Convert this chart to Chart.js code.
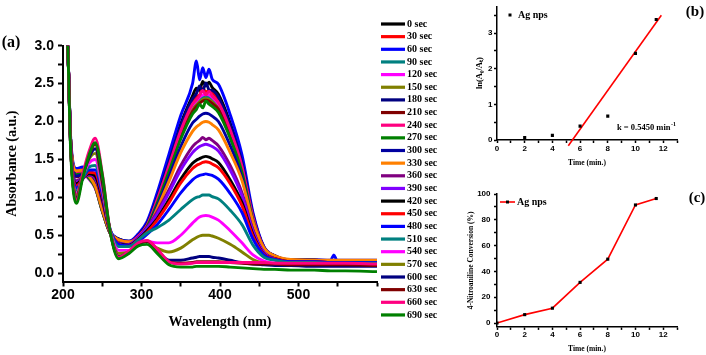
<!DOCTYPE html>
<html>
<head>
<meta charset="utf-8">
<title>UV-vis reduction of 4-nitroaniline</title>
<script src="https://cdn.jsdelivr.net/npm/chart.js@4.4.0/dist/chart.umd.min.js"></script>
<style>
  body { margin: 0; background: #fff; }
  #wrap { position: relative; width: 706px; height: 355px; overflow: hidden; }
  canvas { position: absolute; }
</style>
</head>
<body>
<div id="wrap">
  <canvas id="spectra" width="445" height="355" style="left:0;top:0"></canvas>
  <canvas id="kinetics" width="266" height="175" style="left:440px;top:0"></canvas>
  <canvas id="conversion" width="266" height="180" style="left:440px;top:175px"></canvas>
</div>
<script>
// ---- data (a): absorbance spectra, one array per reaction time ----
var wavelength = [200, 205, 210, 217, 225, 233, 241, 250, 260, 271, 284, 296, 307, 320, 335, 350, 365, 370, 374, 378, 382, 386, 390, 398, 413, 428, 442, 456, 470, 490, 520, 541, 545, 549, 560, 600];
var times = [0, 30, 60, 90, 120, 150, 180, 210, 240, 270, 300, 330, 360, 390, 420, 450, 480, 510, 540, 570, 600, 630, 660, 690];
var colors = ['#000000', '#ff0000', '#0000ff', '#008080', '#ff00ff', '#808000', '#000080', '#800000',
              '#ff0080', '#008000', '#0000a0', '#ff8000', '#800080', '#8000ff', '#000000', '#ff0000',
              '#0000ff', '#008080', '#ff00ff', '#808000', '#000080', '#800000', '#ff0080', '#008000'];

var sec0   = [3.3, 3.2, 1.7, 1.36, 1.37, 1.28, 1.15, 0.84, 0.54, 0.45, 0.42, 0.50, 0.66, 1.02, 1.49, 1.97, 2.34, 2.44, 2.41, 2.53, 2.47, 2.52, 2.45, 2.36, 1.98, 1.48, 0.77, 0.34, 0.23, 0.17, 0.17, 0.16, 0.16, 0.16, 0.16, 0.16];
var sec30  = [3.3, 3.2, 1.7, 1.34, 1.35, 1.27, 1.14, 0.83, 0.54, 0.44, 0.41, 0.49, 0.64, 0.99, 1.44, 1.91, 2.26, 2.33, 2.35, 2.44, 2.39, 2.41, 2.38, 2.29, 1.92, 1.43, 0.75, 0.34, 0.22, 0.17, 0.17, 0.16, 0.16, 0.16, 0.16, 0.16];
var sec60  = [3.3, 3.2, 1.75, 1.38, 1.40, 1.31, 1.17, 0.86, 0.55, 0.45, 0.42, 0.52, 0.68, 1.06, 1.57, 2.08, 2.50, 2.80, 2.55, 2.71, 2.58, 2.69, 2.56, 2.49, 2.09, 1.56, 0.80, 0.35, 0.23, 0.18, 0.18, 0.17, 0.24, 0.17, 0.17, 0.17];
var sec90  = [3.3, 3.2, 1.7, 1.33, 1.34, 1.26, 1.13, 0.82, 0.53, 0.44, 0.41, 0.48, 0.62, 0.96, 1.39, 1.84, 2.18, 2.24, 2.29, 2.32, 2.33, 2.32, 2.29, 2.20, 1.85, 1.38, 0.72, 0.33, 0.22, 0.17, 0.17, 0.16, 0.16, 0.16, 0.16, 0.16];
var sec120 = [3.3, 3.2, 1.7, 1.30, 1.31, 1.24, 1.12, 0.82, 0.53, 0.44, 0.41, 0.49, 0.63, 0.97, 1.41, 1.86, 2.21, 2.27, 2.32, 2.35, 2.36, 2.35, 2.32, 2.23, 1.87, 1.40, 0.73, 0.33, 0.22, 0.17, 0.17, 0.16, 0.16, 0.16, 0.16, 0.16];
var sec150 = [3.3, 3.2, 1.7, 1.32, 1.33, 1.27, 1.14, 0.83, 0.53, 0.44, 0.41, 0.48, 0.62, 0.95, 1.38, 1.82, 2.15, 2.22, 2.26, 2.29, 2.30, 2.29, 2.26, 2.17, 1.83, 1.37, 0.72, 0.33, 0.22, 0.17, 0.17, 0.16, 0.16, 0.16, 0.16, 0.16];
var sec180 = [3.3, 3.2, 1.7, 1.30, 1.32, 1.29, 1.16, 0.84, 0.54, 0.45, 0.41, 0.50, 0.65, 1.00, 1.47, 1.94, 2.30, 2.37, 2.47, 2.40, 2.51, 2.42, 2.41, 2.32, 1.95, 1.46, 0.76, 0.34, 0.23, 0.17, 0.17, 0.16, 0.16, 0.16, 0.16, 0.16];
var sec210 = [3.3, 3.2, 1.7, 1.27, 1.29, 1.28, 1.15, 0.83, 0.53, 0.44, 0.40, 0.48, 0.62, 0.94, 1.36, 1.80, 2.13, 2.20, 2.24, 2.27, 2.28, 2.27, 2.24, 2.16, 1.81, 1.35, 0.71, 0.33, 0.22, 0.17, 0.17, 0.16, 0.16, 0.16, 0.16, 0.16];
var sec240 = [3.3, 3.2, 1.7, 1.32, 1.34, 1.27, 1.14, 0.83, 0.53, 0.44, 0.41, 0.49, 0.63, 0.97, 1.42, 1.88, 2.23, 2.29, 2.34, 2.41, 2.35, 2.40, 2.34, 2.25, 1.89, 1.41, 0.74, 0.33, 0.22, 0.17, 0.17, 0.16, 0.16, 0.16, 0.16, 0.16];
var sec270 = [3.3, 3.2, 1.7, 1.30, 1.31, 1.25, 1.13, 0.82, 0.53, 0.44, 0.40, 0.47, 0.61, 0.92, 1.34, 1.77, 2.10, 2.16, 2.23, 2.18, 2.27, 2.23, 2.20, 2.12, 1.78, 1.33, 0.70, 0.32, 0.22, 0.17, 0.17, 0.16, 0.16, 0.16, 0.16, 0.16];
var sec300 = [3.3, 3.2, 1.7, 1.28, 1.30, 1.28, 1.16, 0.84, 0.54, 0.44, 0.40, 0.46, 0.58, 0.88, 1.27, 1.67, 1.98, 2.03, 2.07, 2.10, 2.11, 2.10, 2.07, 2.00, 1.68, 1.26, 0.67, 0.31, 0.22, 0.17, 0.17, 0.16, 0.16, 0.16, 0.16, 0.16];
var sec330 = [3.3, 3.2, 1.7, 1.35, 1.36, 1.28, 1.15, 0.84, 0.54, 0.44, 0.41, 0.46, 0.57, 0.85, 1.21, 1.59, 1.87, 1.93, 1.96, 1.99, 2.00, 1.99, 1.96, 1.89, 1.59, 1.22, 0.68, 0.33, 0.23, 0.18, 0.17, 0.17, 0.17, 0.17, 0.17, 0.17];
var sec360 = [3.3, 3.2, 1.65, 1.22, 1.26, 1.29, 1.25, 0.95, 0.55, 0.39, 0.38, 0.47, 0.60, 0.81, 1.10, 1.42, 1.67, 1.72, 1.75, 1.79, 1.76, 1.78, 1.75, 1.68, 1.42, 1.06, 0.57, 0.27, 0.19, 0.15, 0.15, 0.14, 0.14, 0.14, 0.14, 0.14];
var sec390 = [3.3, 3.2, 1.65, 1.20, 1.25, 1.30, 1.27, 0.97, 0.55, 0.39, 0.38, 0.47, 0.59, 0.78, 1.06, 1.36, 1.59, 1.64, 1.67, 1.69, 1.70, 1.69, 1.67, 1.61, 1.36, 1.02, 0.55, 0.27, 0.19, 0.15, 0.15, 0.14, 0.14, 0.14, 0.14, 0.14];
var sec420 = [3.3, 3.2, 1.65, 1.18, 1.25, 1.31, 1.28, 0.98, 0.56, 0.39, 0.37, 0.45, 0.56, 0.72, 0.97, 1.24, 1.45, 1.49, 1.51, 1.53, 1.54, 1.53, 1.51, 1.46, 1.23, 0.93, 0.51, 0.25, 0.19, 0.15, 0.15, 0.14, 0.14, 0.14, 0.14, 0.14];
var sec450 = [3.3, 3.2, 1.65, 1.15, 1.24, 1.33, 1.32, 1.02, 0.57, 0.39, 0.36, 0.44, 0.54, 0.70, 0.93, 1.19, 1.38, 1.42, 1.44, 1.46, 1.47, 1.46, 1.44, 1.39, 1.18, 0.89, 0.49, 0.25, 0.19, 0.15, 0.15, 0.14, 0.14, 0.14, 0.14, 0.14];
var sec480 = [3.3, 3.2, 1.65, 1.12, 1.24, 1.36, 1.36, 1.05, 0.58, 0.38, 0.36, 0.42, 0.51, 0.64, 0.84, 1.06, 1.23, 1.27, 1.29, 1.30, 1.31, 1.30, 1.29, 1.24, 1.05, 0.80, 0.45, 0.24, 0.18, 0.15, 0.15, 0.14, 0.14, 0.14, 0.14, 0.14];
var sec510 = [3.3, 3.2, 1.6, 1.08, 1.25, 1.40, 1.42, 1.10, 0.58, 0.35, 0.35, 0.44, 0.53, 0.60, 0.70, 0.84, 0.97, 1.00, 1.01, 1.03, 1.03, 1.03, 1.01, 0.98, 0.83, 0.64, 0.37, 0.21, 0.17, 0.14, 0.14, 0.13, 0.13, 0.13, 0.13, 0.13];
var sec540 = [3.3, 3.2, 1.6, 1.05, 1.28, 1.45, 1.50, 1.12, 0.56, 0.30, 0.30, 0.38, 0.42, 0.40, 0.40, 0.50, 0.66, 0.71, 0.74, 0.755, 0.76, 0.755, 0.74, 0.70, 0.56, 0.40, 0.24, 0.16, 0.13, 0.12, 0.12, 0.12, 0.12, 0.12, 0.12, 0.11];
var sec570 = [3.3, 3.2, 1.6, 1.02, 1.30, 1.50, 1.58, 1.18, 0.55, 0.26, 0.28, 0.38, 0.42, 0.33, 0.28, 0.33, 0.44, 0.47, 0.49, 0.50, 0.50, 0.50, 0.49, 0.46, 0.38, 0.28, 0.18, 0.13, 0.12, 0.11, 0.11, 0.11, 0.11, 0.11, 0.10, 0.10];
var sec600 = [3.3, 3.2, 1.6, 0.98, 1.28, 1.52, 1.64, 1.22, 0.55, 0.22, 0.28, 0.38, 0.42, 0.30, 0.17, 0.17, 0.20, 0.21, 0.22, 0.22, 0.22, 0.22, 0.21, 0.20, 0.17, 0.14, 0.12, 0.11, 0.10, 0.10, 0.09, 0.09, 0.09, 0.09, 0.09, 0.09];
var sec630 = [3.3, 3.2, 1.6, 0.96, 1.28, 1.55, 1.70, 1.25, 0.55, 0.21, 0.28, 0.39, 0.42, 0.30, 0.15, 0.13, 0.14, 0.15, 0.15, 0.15, 0.15, 0.15, 0.15, 0.15, 0.14, 0.13, 0.12, 0.12, 0.12, 0.11, 0.11, 0.11, 0.11, 0.11, 0.11, 0.10];
var sec660 = [3.3, 3.2, 1.6, 0.95, 1.30, 1.60, 1.78, 1.32, 0.56, 0.21, 0.29, 0.40, 0.43, 0.32, 0.15, 0.12, 0.13, 0.14, 0.14, 0.14, 0.14, 0.14, 0.14, 0.14, 0.14, 0.14, 0.14, 0.14, 0.13, 0.13, 0.13, 0.13, 0.13, 0.13, 0.13, 0.12];
var sec690 = [3.3, 3.2, 1.55, 0.92, 1.25, 1.55, 1.72, 1.30, 0.55, 0.19, 0.26, 0.36, 0.38, 0.26, 0.11, 0.08, 0.08, 0.09, 0.09, 0.09, 0.09, 0.09, 0.09, 0.09, 0.08, 0.07, 0.06, 0.05, 0.05, 0.04, 0.04, 0.03, 0.03, 0.03, 0.03, 0.02];

var spectra = [sec0, sec30, sec60, sec90, sec120, sec150, sec180, sec210, sec240, sec270, sec300, sec330,
               sec360, sec390, sec420, sec450, sec480, sec510, sec540, sec570, sec600, sec630, sec660, sec690];

var wlTicks = [200, 250, 300, 350, 400, 450, 500, 550, 600];
var wlLabels = [200, 300, 400, 500];
var absTicks = [0, 0.25, 0.5, 0.75, 1, 1.25, 1.5, 1.75, 2, 2.25, 2.5, 2.75, 3];
var absLabels = [0, 0.5, 1, 1.5, 2, 2.5, 3];

// ---- data (b): first-order plot ----
var lnTime = [2, 4, 6, 8, 10, 11.5];
var lnRatio = [0.07, 0.13, 0.39, 0.67, 2.43, 3.38];
var fitTime = [5.15, 11.87];
var fitLn = [-0.16, 3.5];
var lnTicks = [0, 0.5, 1, 1.5, 2, 2.5, 3, 3.5];
var lnLabels = [0, 1, 2, 3];

// ---- data (c): conversion ----
var convTime = [0, 2, 4, 6, 8, 10, 11.5];
var conversion = [0, 6.5, 11.5, 31.5, 49.5, 91.5, 96.5];
var convTicks = [0, 10, 20, 30, 40, 50, 60, 70, 80, 90, 100];
var convLabels = [0, 20, 40, 60, 80, 100];

var timeTicks = [0, 1, 2, 3, 4, 5, 6, 7, 8, 9, 10, 11, 12, 13];
var timeLabels = [0, 2, 4, 6, 8, 10, 12];

Chart.defaults.font.family = '"Liberation Sans", Arial, sans-serif';
Chart.defaults.color = '#000';

var SERIF = '"Liberation Serif", "Times New Roman", serif';

function pairs(xs, ys) {
  return xs.map(function (x, i) { return { x: x, y: ys[i] }; });
}

function fixedTicks(list) {
  return function (scale) {
    scale.ticks = list.map(function (v) { return { value: v }; });
  };
}

function axis(opts) {
  return {
    type: 'linear',
    min: opts.min,
    max: opts.max,
    afterBuildTicks: fixedTicks(opts.ticks),
    afterFit: opts.fit,
    border: { display: true, color: '#000', width: opts.lw },
    grid: { drawOnChartArea: false, drawTicks: true, tickLength: opts.tl, tickColor: '#000', tickWidth: opts.lw },
    ticks: {
      autoSkip: false, maxRotation: 0, padding: opts.pad,
      font: { size: opts.fs, weight: 'bold' },
      callback: function (v) { return opts.labels.indexOf(v) >= 0 ? opts.fmt(v) : ''; }
    },
    title: {
      display: true, text: opts.title,
      font: { family: SERIF, size: opts.ts, weight: 'bold' },
      padding: opts.tpad
    }
  };
}

// free text drawn on top of a chart (panel letters, rate constant)
function notes(draw) {
  return { id: 'notes', afterDraw: function (chart) { var c = chart.ctx; c.save(); draw(c, chart); c.restore(); } };
}

// legend of panel (a): one short line per reaction time, stacked at the right
var seriesKey = {
  id: 'seriesKey',
  afterDraw: function (chart) {
    var ctx = chart.ctx;
    var x0 = chart.chartArea.right + 4;
    ctx.save();
    ctx.font = 'bold 10px ' + SERIF;
    ctx.textBaseline = 'middle';
    chart.data.datasets.forEach(function (ds, i) {
      var y = 24 + i * 12.65;
      ctx.strokeStyle = ds.borderColor;
      ctx.lineWidth = 3.2;
      ctx.beginPath();
      ctx.moveTo(x0, y);
      ctx.lineTo(x0 + 24, y);
      ctx.stroke();
      ctx.fillStyle = '#000';
      ctx.fillText(ds.label, x0 + 26, y);
    });
    ctx.restore();
  }
};

new Chart(document.getElementById('spectra'), {
  type: 'line',
  data: {
    datasets: spectra.map(function (ys, i) {
      return {
        label: times[i] + ' sec',
        data: pairs(wavelength, ys),
        borderColor: colors[i],
        backgroundColor: colors[i],
        borderWidth: 2.9,
        pointRadius: 0,
        cubicInterpolationMode: 'monotone',
        order: spectra.length - i
      };
    })
  },
  options: {
    responsive: false, animation: false, events: [],
    layout: { padding: { top: 45.7, right: 68, bottom: 0, left: 0 } },
    plugins: { legend: { display: false }, tooltip: { enabled: false } },
    scales: {
      x: axis({ min: 200, max: 600, ticks: wlTicks, labels: wlLabels, fmt: String,
                fit: function (s) { s.height = 73.5; }, lw: 2, tl: 5, pad: 0, fs: 14,
                title: 'Wavelength (nm)', ts: 14, tpad: { top: 0, bottom: 24.6 } }),
      y: axis({ min: -0.11, max: 3.0, ticks: absTicks, labels: absLabels,
                fmt: function (v) { return v.toFixed(1); },
                fit: function (s) { s.width = 63; }, lw: 2, tl: 5, pad: 4, fs: 14,
                title: 'Absorbance (a.u.)', ts: 14, tpad: { top: 3.6, bottom: 0 } })
    }
  },
  plugins: [seriesKey, notes(function (ctx) {
    ctx.font = 'bold 16px ' + SERIF;
    ctx.textAlign = 'center';
    ctx.textBaseline = 'middle';
    ctx.fillText('(a)', 11, 43);
  })]
});

new Chart(document.getElementById('kinetics'), {
  type: 'line',
  data: {
    datasets: [{
      label: 'Ag nps',
      data: pairs(lnTime, lnRatio),
      showLine: false,
      pointStyle: 'rect', pointRadius: 2.2,
      pointBackgroundColor: '#000', pointBorderColor: '#000', pointBorderWidth: 0
    }, {
      label: 'fit',
      data: pairs(fitTime, fitLn),
      borderColor: '#ff0000', borderWidth: 1.6,
      pointRadius: 0, clip: false
    }]
  },
  options: {
    responsive: false, animation: false, events: [],
    layout: { padding: { top: 5, right: 29, bottom: 0, left: 0 } },
    plugins: { legend: { display: false }, tooltip: { enabled: false } },
    scales: {
      x: axis({ min: 0, max: 13, ticks: timeTicks, labels: timeLabels, fmt: String,
                fit: function (s) { s.height = 35; }, lw: 1.5, tl: 3, pad: 0.5, fs: 8,
                title: 'Time (min.)', ts: 7.5, tpad: { top: 0, bottom: 7.5 } }),
      y: axis({ min: 0, max: 3.75, ticks: lnTicks, labels: lnLabels, fmt: String,
                fit: function (s) { s.width = 57; }, lw: 1.5, tl: 3, pad: 1.5, fs: 8,
                title: 'ln(A\u2080/A\u209c)', ts: 8.5, tpad: { top: 34.9, bottom: 0 } })
    }
  },
  plugins: [notes(function (ctx) {
    ctx.textBaseline = 'middle';
    ctx.fillStyle = '#000';
    ctx.fillRect(68.5, 13.5, 3, 3);
    ctx.font = 'bold 10px ' + SERIF;
    ctx.fillText('Ag nps', 78, 15);
    ctx.font = 'bold 8.5px ' + SERIF;
    var main = 'k = 0.5450 min';
    ctx.fillText(main, 177, 128);
    var w = ctx.measureText(main).width;
    ctx.font = 'bold 6px ' + SERIF;
    ctx.fillText('-1', 177 + w + 0.5, 124.5);
    ctx.font = 'bold 15px ' + SERIF;
    ctx.textAlign = 'center';
    ctx.fillText('(b)', 255, 12);
  })]
});

new Chart(document.getElementById('conversion'), {
  type: 'line',
  data: {
    datasets: [{
      label: 'Ag nps',
      data: pairs(convTime, conversion),
      borderColor: '#ff0000', borderWidth: 1.6,
      pointStyle: 'rect', pointRadius: 2.2,
      pointBackgroundColor: '#000', pointBorderColor: '#000', pointBorderWidth: 0,
      tension: 0
    }]
  },
  options: {
    responsive: false, animation: false, events: [],
    layout: { padding: { top: 19, right: 29, bottom: 0, left: 0 } },
    plugins: { legend: { display: false }, tooltip: { enabled: false } },
    scales: {
      x: axis({ min: 0, max: 13, ticks: timeTicks, labels: timeLabels, fmt: String,
                fit: function (s) { s.height = 28.1; }, lw: 1.5, tl: 3, pad: 0, fs: 8,
                title: 'Time (min.)', ts: 7.5, tpad: { top: 0, bottom: 1.5 } }),
      y: axis({ min: -3, max: 100, ticks: convTicks, labels: convLabels, fmt: String,
                fit: function (s) { s.width = 57; }, lw: 1.5, tl: 3, pad: 3.5, fs: 8,
                title: '4-Nitroaniline Conversion (%)', ts: 7.5, tpad: { top: 26.2, bottom: 0 } })
    }
  },
  plugins: [notes(function (ctx) {
    ctx.strokeStyle = '#ff0000';
    ctx.lineWidth = 1.6;
    ctx.beginPath();
    ctx.moveTo(60, 27);
    ctx.lineTo(75, 27);
    ctx.stroke();
    ctx.fillStyle = '#000';
    ctx.fillRect(66, 25.5, 3, 3);
    ctx.textBaseline = 'middle';
    ctx.font = 'bold 10px ' + SERIF;
    ctx.fillText('Ag nps', 77, 27);
    ctx.font = 'bold 15px ' + SERIF;
    ctx.textAlign = 'center';
    ctx.fillText('(c)', 257, 23);
  })]
});
</script>
</body>
</html>
